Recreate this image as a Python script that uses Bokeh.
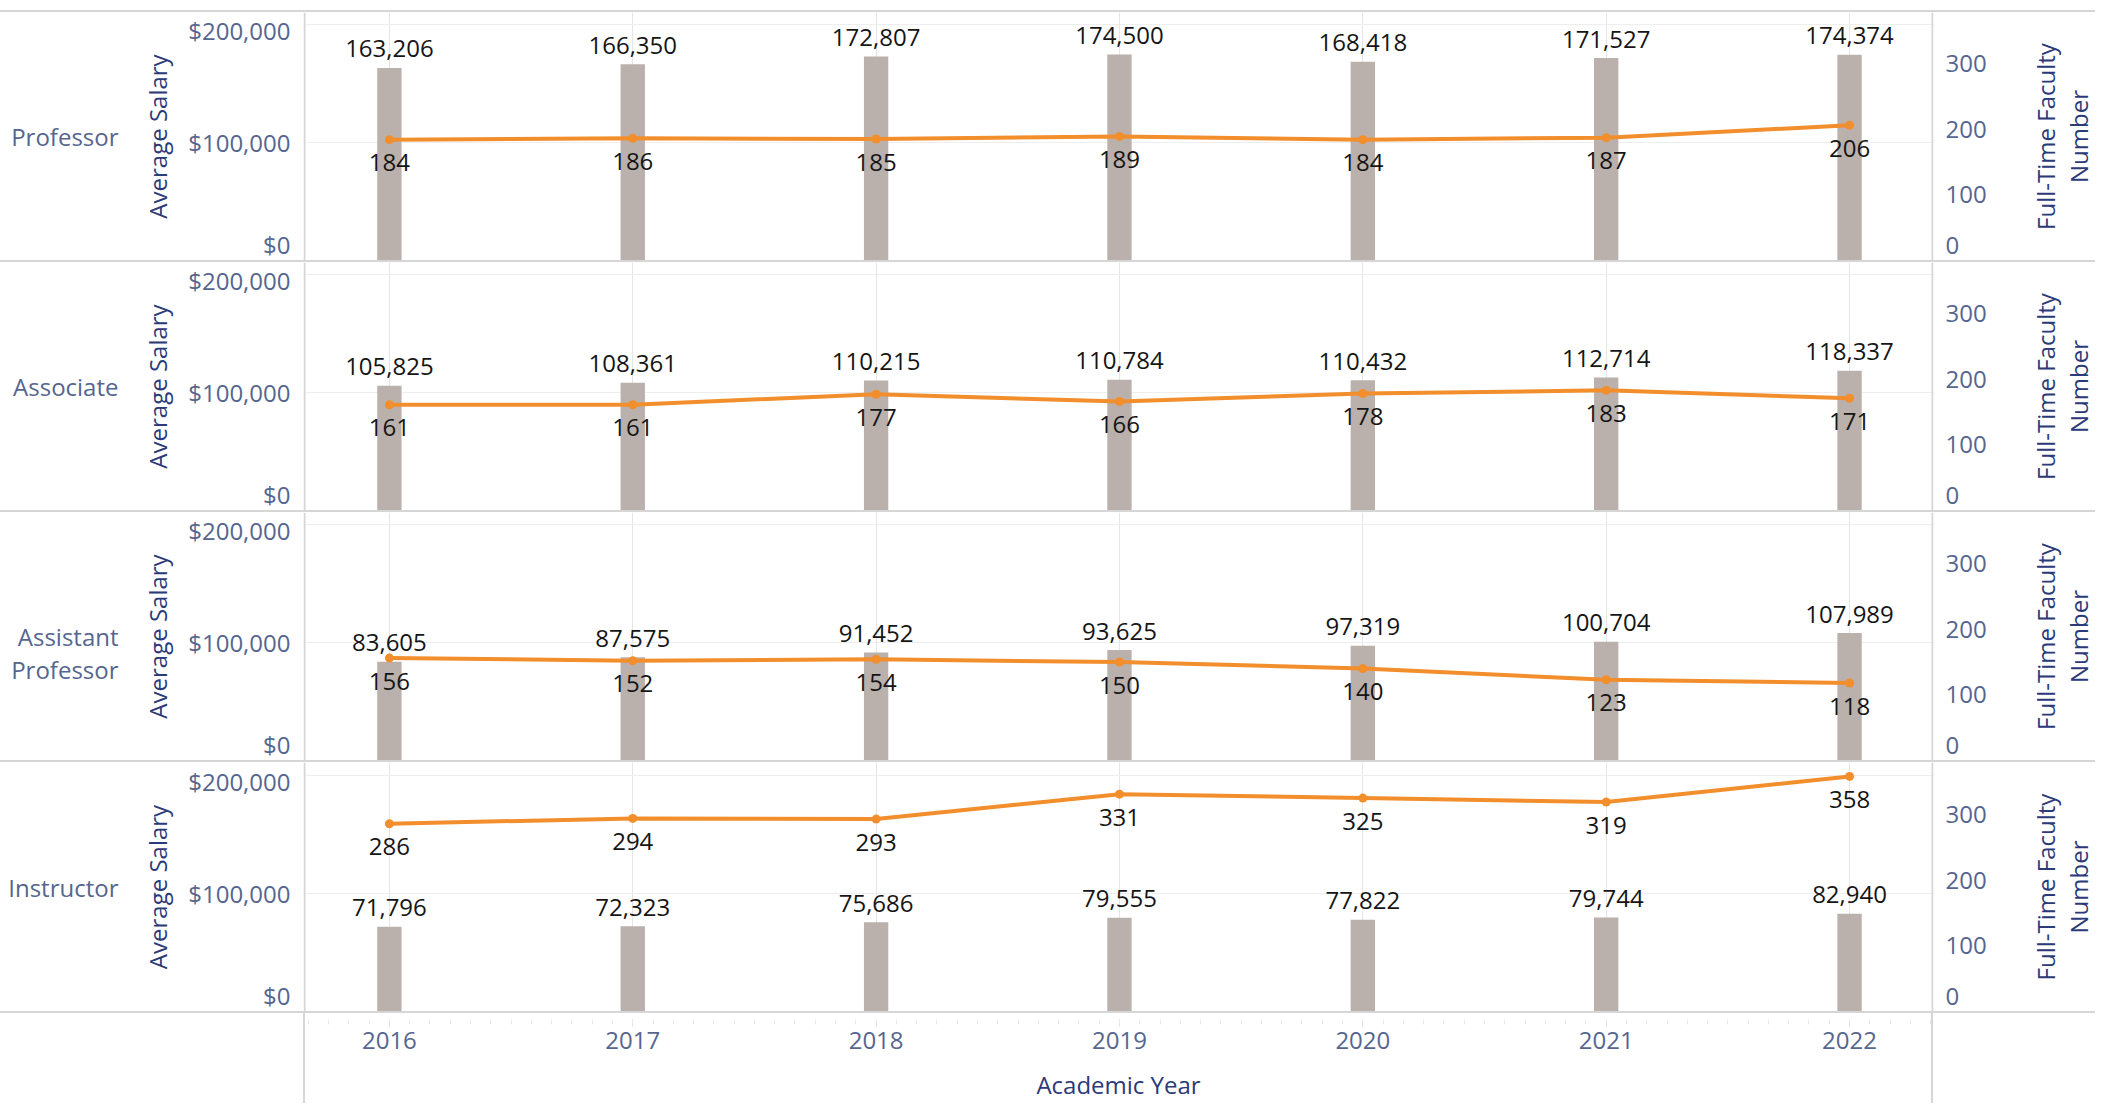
import numpy as np
from bokeh.plotting import figure
from bokeh.models import (ColumnDataSource, Range1d, LinearAxis, FixedTicker,
                          BoxAnnotation, Div)
from bokeh.layouts import column, row
from bokeh.embed import file_html
from bokeh.resources import INLINE
from bokeh.core.properties import value

# ---------------- data ----------------
YEARS = [2016, 2017, 2018, 2019, 2020, 2021, 2022]
RANK_LABELS = ["Professor", "Associate", "Assistant\nProfessor", "Instructor"]

PROFESSOR_SALARY = [163206, 166350, 172807, 174500, 168418, 171527, 174374]
PROFESSOR_COUNT = [184, 186, 185, 189, 184, 187, 206]
ASSOCIATE_SALARY = [105825, 108361, 110215, 110784, 110432, 112714, 118337]
ASSOCIATE_COUNT = [161, 161, 177, 166, 178, 183, 171]
ASSISTANT_SALARY = [83605, 87575, 91452, 93625, 97319, 100704, 107989]
ASSISTANT_COUNT = [156, 152, 154, 150, 140, 123, 118]
INSTRUCTOR_SALARY = [71796, 72323, 75686, 79555, 77822, 79744, 82940]
INSTRUCTOR_COUNT = [286, 294, 293, 331, 325, 319, 358]

SALARY_TICK_LABELS = ["$0", "$100,000", "$200,000"]
COUNT_TICK_LABELS = ["0", "100", "200", "300"]
SALARY_GRID = [100000, 200000]
RIGHT_TITLE = "Full-Time Faculty\nNumber"
LEFT_TITLE = "Average Salary"
X_TITLE = "Academic Year"

# ------------- styling / layout -------------
SALARY_TICK_POS = [12000, 100000, 195000]   # end labels nudged inward like the original
COUNT_TICK_POS = [23, 100, 200, 300]

W = 2095
LEFT = 303
FRAME_W = 1630
RIGHT_M = 57                      # room for the count tick labels
MAIN_W = LEFT + FRAME_W + RIGHT_M
TITLE_W = W - MAIN_W              # column holding the rotated right title
RIGHT = W - LEFT - FRAME_W
X_START, X_END = 2015.647, 2022.345
PX_PER_YEAR = FRAME_W / (X_END - X_START)
SAL_PX = 236.0 / 200000.0     # pixels per dollar
CNT_PX = 197.0 / 300.0        # pixels per faculty member
SEP = 2

FONT = "Open Sans"
TICK_C = "#56668f"
TITLE_C = "#2b3a78"
SEP_C = "#d6d6d6"
GRID_C = "#eeeeee"
BAR_C = "#bab0ac"
LINE_C = "#f28e2b"
LABEL_C = "#151515"


def hsep():
    return Div(width=W, height=SEP, margin=(0, 0, 0, 0),
               styles={"background-color": SEP_C})


def vbox(p, left, right):
    p.add_layout(BoxAnnotation(left=left, right=right, left_units="screen",
                               right_units="screen", fill_color=SEP_C,
                               fill_alpha=1.0, line_color=None))


def make_title(frame_h):
    t = figure(width=TITLE_W, height=frame_h, x_range=Range1d(0, 1),
               y_range=Range1d(0, 1), output_backend="svg",
               toolbar_location=None, x_axis_location=None,
               min_border_left=TITLE_W - 1, min_border_right=0,
               min_border_top=0, min_border_bottom=0,
               outline_line_color=None, background_fill_color="white",
               border_fill_color="white")
    t.grid.grid_line_color = None
    ax = t.yaxis[0]
    ax.ticker = FixedTicker(ticks=[])
    ax.axis_label = RIGHT_TITLE
    ax.axis_label_text_font = FONT
    ax.axis_label_text_font_size = "24px"
    ax.axis_label_text_font_style = "normal"
    ax.axis_label_text_color = TITLE_C
    ax.axis_label_text_line_height = 1.0
    ax.axis_label_standoff = 0
    ax.major_label_standoff = 0
    ax.major_tick_out = 0
    ax.major_tick_in = 0
    ax.minor_tick_out = 0
    ax.minor_tick_in = 0
    ax.axis_line_color = None
    return t


def make_panel(name, salary, count, frame_h, row_px=None):
    y_end = frame_h / SAL_PX
    c_end = frame_h / CNT_PX
    p = figure(width=MAIN_W, height=frame_h,
               x_range=Range1d(X_START, X_END), y_range=Range1d(0, y_end),
               output_backend="svg", toolbar_location=None,
               x_axis_location=None,
               min_border_left=LEFT, min_border_right=RIGHT_M,
               min_border_top=0, min_border_bottom=0,
               outline_line_color=None, background_fill_color="white",
               border_fill_color="white")
    p.extra_y_ranges = {"cnt": Range1d(0, c_end)}

    src = ColumnDataSource(dict(
        year=YEARS, salary=salary, count=count,
        sal_txt=[f"{v:,}" for v in salary],
        cnt_txt=[str(v) for v in count]))

    p.vbar(x="year", top="salary", width=0.1, source=src,
           fill_color=BAR_C, line_color=None)
    p.line("year", "count", source=src, y_range_name="cnt",
           line_color=LINE_C, line_width=4)
    p.scatter("year", "count", source=src, y_range_name="cnt", size=9,
              fill_color=LINE_C, line_color=None)
    p.text("year", "salary", text="sal_txt", source=src,
           text_align="center", text_baseline="alphabetic", y_offset=-19,
           text_font=value(FONT), text_font_size="24px", text_color=LABEL_C)
    p.text("year", "count", text="cnt_txt", source=src, y_range_name="cnt",
           text_align="center", text_baseline="alphabetic", y_offset=23,
           text_font=value(FONT), text_font_size="24px", text_color=LABEL_C)

    # left salary axis
    yax = p.yaxis[0]
    yax.ticker = FixedTicker(ticks=SALARY_TICK_POS)
    yax.major_label_overrides = dict(zip(SALARY_TICK_POS, SALARY_TICK_LABELS))
    yax.axis_label = LEFT_TITLE
    yax.axis_label_text_font = FONT
    yax.axis_label_text_font_size = "24px"
    yax.axis_label_text_font_style = "normal"
    yax.axis_label_text_color = TITLE_C
    yax.axis_label_standoff = 11
    yax.major_label_text_font = FONT
    yax.major_label_text_font_size = "24px"
    yax.major_label_text_color = TICK_C
    yax.major_label_standoff = 13
    yax.major_tick_out = 0
    yax.major_tick_in = 0
    yax.minor_tick_out = 0
    yax.minor_tick_in = 0
    yax.axis_line_color = None

    # row header, as the only label of an outer left axis
    if row_px is None:
        row_px = frame_h / 2.0
    row_pos = int(round(row_px / SAL_PX))
    rowax = LinearAxis(ticker=FixedTicker(ticks=[row_pos]),
                       major_label_overrides={row_pos: name},
                       major_label_orientation="horizontal",
                       major_label_text_font=FONT, major_label_text_font_size="24px",
                       major_label_text_color=TICK_C, major_label_standoff=20,
                       major_label_text_line_height=1.0,
                       major_tick_out=0, major_tick_in=0, minor_tick_out=0,
                       minor_tick_in=0, axis_line_color=None)
    p.add_layout(rowax, "left")

    p.ygrid[0].ticker = FixedTicker(ticks=SALARY_GRID)
    p.ygrid[0].grid_line_color = GRID_C

    # right count axis
    rax = LinearAxis(y_range_name="cnt", ticker=FixedTicker(ticks=COUNT_TICK_POS),
                     major_label_overrides=dict(zip(COUNT_TICK_POS, COUNT_TICK_LABELS)),
                     major_label_text_font=FONT, major_label_text_font_size="24px",
                     major_label_text_color=TICK_C, major_label_standoff=12,
                     major_tick_out=0, major_tick_in=0, minor_tick_out=0,
                     minor_tick_in=0, axis_line_color=None)
    p.add_layout(rax, "right")

    # frame edges
    vbox(p, 0, 2)
    vbox(p, FRAME_W - 2, FRAME_W)
    return row(p, make_title(frame_h), spacing=0)


def make_xaxis(height):
    # sits between the two vertical rules, which are 2px Divs
    inner_w = FRAME_W - 4
    xs = X_START + 2.0 / PX_PER_YEAR
    xe = X_END - 2.0 / PX_PER_YEAR
    p = figure(width=inner_w, height=height, x_range=Range1d(xs, xe),
               y_range=Range1d(0, 1), output_backend="svg",
               toolbar_location=None, y_axis_location=None,
               min_border_left=0, min_border_right=0, min_border_top=0,
               min_border_bottom=height - 6, outline_line_color=None,
               background_fill_color="white", border_fill_color="white")
    p.grid.grid_line_color = None
    minor = [round(2015 + k / 12.0, 5) for k in range(1, 12 * 8)
             if xs < 2015 + k / 12.0 < xe]
    xax = p.xaxis[0]
    xax.ticker = FixedTicker(ticks=YEARS, minor_ticks=minor)
    xax.major_label_text_font = FONT
    xax.major_label_text_font_size = "24px"
    xax.major_label_text_color = TICK_C
    xax.major_label_standoff = 5
    xax.major_tick_out = 7
    xax.major_tick_in = 0
    xax.major_tick_line_color = "#dddddd"
    xax.minor_tick_out = 5
    xax.minor_tick_in = 0
    xax.minor_tick_line_color = "#e8e8e8"
    xax.axis_line_color = None
    xax.axis_label = X_TITLE
    xax.axis_label_text_font = FONT
    xax.axis_label_text_font_size = "24px"
    xax.axis_label_text_font_style = "normal"
    xax.axis_label_text_color = TITLE_C
    xax.axis_label_standoff = 16
    return p


p1 = make_panel(RANK_LABELS[0], PROFESSOR_SALARY, PROFESSOR_COUNT, 248)
p2 = make_panel(RANK_LABELS[1], ASSOCIATE_SALARY, ASSOCIATE_COUNT, 248)
p3 = make_panel(RANK_LABELS[2], ASSISTANT_SALARY, ASSISTANT_COUNT, 248, row_px=108)
p4 = make_panel(RANK_LABELS[3], INSTRUCTOR_SALARY, INSTRUCTOR_COUNT, 249)

BOTTOM_H = 90
px = make_xaxis(BOTTOM_H)


def vrule():
    return Div(width=2, height=BOTTOM_H, margin=(0, 0, 0, 0),
               styles={"background-color": SEP_C})


bottom = row(Div(width=LEFT, height=BOTTOM_H, margin=(0, 0, 0, 0)), vrule(), px,
             vrule(), Div(width=RIGHT, height=BOTTOM_H, margin=(0, 0, 0, 0)),
             spacing=0)

layout = column(Div(width=W, height=10, margin=(0, 0, 0, 0)),
                hsep(), p1, hsep(), p2, hsep(), p3, hsep(), p4, hsep(), bottom,
                spacing=0)
open("out.html", "w").write(file_html(layout, INLINE))
